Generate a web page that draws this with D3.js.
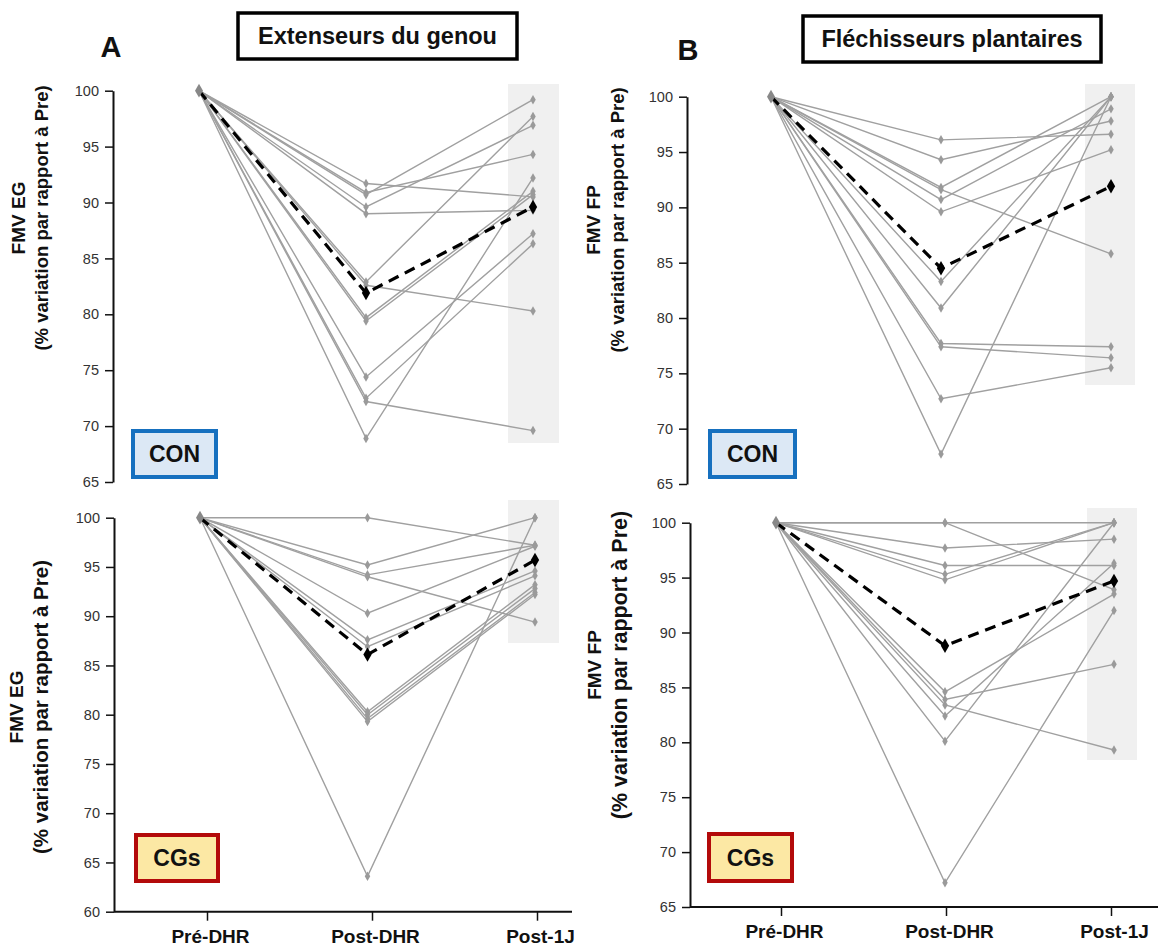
<!DOCTYPE html>
<html>
<head>
<meta charset="utf-8">
<script src="https://cdn.jsdelivr.net/npm/d3@7"></script>
<style>
  body { margin: 0; background: #fff; }
  text { font-family: "Liberation Sans", Arial, sans-serif; }
</style>
</head>
<body>
<script>
// ---------- DATA ----------
const categories = ["Pré-DHR", "Post-DHR", "Post-1J"];

// A – Extenseurs du genou, CON
const egConPostDHR = [91.7, 90.9, 90.7, 89.6, 89.0, 82.9, 82.6, 79.7, 79.4, 74.4, 72.5, 72.2, 68.9];
const egConPost1J  = [90.5, 94.3, 99.2, 96.9, 89.3, 97.7, 80.3, 91.0, 90.7, 87.2, 86.3, 69.6, 92.2];
const egConMean    = [100, 81.9, 89.6];

// B – Fléchisseurs plantaires, CON
const fpConPostDHR = [96.1, 94.3, 91.8, 91.6, 90.7, 89.6, 83.3, 80.9, 77.7, 77.4, 72.7, 67.7];
const fpConPost1J  = [96.6, 97.8, 100, 85.8, 98.9, 95.2, 100, 100, 77.4, 76.4, 75.5, 100];
const fpConMean    = [100, 84.5, 91.9];

// A – Extenseurs du genou, CGs
const egCgsPostDHR = [100, 95.2, 94.2, 94.0, 90.3, 87.6, 86.9, 80.3, 80.0, 79.6, 79.3, 63.6];
const egCgsPost1J  = [97.2, 100, 97.2, 89.4, 97.1, 94.6, 94.1, 93.2, 92.8, 92.4, 92.2, 100];
const egCgsMean    = [100, 86.1, 95.7];

// B – Fléchisseurs plantaires, CGs
const fpCgsPostDHR = [100, 100, 97.7, 96.1, 95.3, 94.8, 84.6, 83.9, 83.4, 82.4, 80.1, 67.2];
const fpCgsPost1J  = [100, 93.9, 98.5, 96.1, 100, 100, 93.5, 87.1, 79.3, 96.3, 100, 92.0];
const fpCgsMean    = [100, 88.8, 94.7];

const preValue = 100;
const yTicksTop = [65, 70, 75, 80, 85, 90, 95, 100];
const yTicksEgCgs = [60, 65, 70, 75, 80, 85, 90, 95, 100];

// ---------- LAYOUT ----------
const svg = d3.select("body").append("svg")
  .attr("width", 1158).attr("height", 946)
  .style("background", "#fff");

const panels = [
  { post: egConPostDHR, j1: egConPost1J, mean: egConMean, yMin: 65, ticks: yTicksTop,
    ax: 113, y100: 90.7, yMinPx: 482, x0: 199, x1: 533,
    shade: [508, 84, 51, 359], xAxis: false,
    lab1: "FMV EG", lab2: "(% variation par rapport à Pre)", labX1: 25, labX2: 48, labY: 218, f1: 19, f2: 18.5,
    badge: { text: "CON", x: 133, y: 431, w: 83, h: 46, stroke: "#1670bf", fill: "#dce8f5" } },
  { post: fpConPostDHR, j1: fpConPost1J, mean: fpConMean, yMin: 65, ticks: yTicksTop,
    ax: 687, y100: 96.7, yMinPx: 484, x0: 771, x1: 1111,
    shade: [1085, 84, 50, 301], xAxis: false,
    lab1: "FMV FP", lab2: "(% variation par rapport à Pre)", labX1: 600, labX2: 624, labY: 220, f1: 19, f2: 18.5,
    badge: { text: "CON", x: 710, y: 431, w: 85, h: 46, stroke: "#1670bf", fill: "#dce8f5" } },
  { post: egCgsPostDHR, j1: egCgsPost1J, mean: egCgsMean, yMin: 60, ticks: yTicksEgCgs,
    ax: 114, y100: 517.7, yMinPx: 911.7, x0: 200, x1: 535, t0: 207, t1: 537,
    shade: [508, 500, 51, 143], xAxis: true, xEnd: 572,
    lab1: "FMV EG", lab2: "(% variation par rapport à Pre)", labX1: 23, labX2: 48, labY: 707, f1: 19, f2: 20.5,
    badge: { text: "CGs", x: 136, y: 835, w: 82, h: 46, stroke: "#b30a0a", fill: "#fce8a4" } },
  { post: fpCgsPostDHR, j1: fpCgsPost1J, mean: fpCgsMean, yMin: 65, ticks: yTicksTop,
    ax: 690, y100: 522.7, yMinPx: 907, x0: 776, x1: 1114, t0: 781, t1: 1111,
    shade: [1087, 508, 50, 252], xAxis: true, xEnd: 1158,
    lab1: "FMV FP", lab2: "(% variation par rapport à Pre)", labX1: 601, labX2: 627, labY: 665, f1: 19, f2: 21.5,
    badge: { text: "CGs", x: 709, y: 834, w: 83, h: 47, stroke: "#b30a0a", fill: "#fce8a4" } }
];

const grayLine = "#a0a0a0";
const grayMark = "#9a9a9a";

function drawPanel(p) {
  const g = svg.append("g");
  const x = d3.scalePoint().domain(categories).range([p.x0, p.x1]);
  const y = d3.scaleLinear().domain([p.yMin, 100]).range([p.yMinPx, p.y100]);

  // shaded column
  g.append("rect")
    .attr("x", p.shade[0]).attr("y", p.shade[1])
    .attr("width", p.shade[2]).attr("height", p.shade[3])
    .attr("fill", "#f0f0f0");

  // y axis
  const ya = g.append("g").attr("transform", `translate(${p.ax},0)`)
    .call(d3.axisLeft(y).tickValues(p.ticks).tickSize(8).tickSizeOuter(0).tickPadding(6));
  ya.select(".domain").attr("stroke", "#111").attr("stroke-width", 2);
  ya.selectAll(".tick line").attr("stroke", "#111").attr("stroke-width", 1.5);
  ya.selectAll(".tick text").attr("font-size", 14.5).attr("fill", "#333")
    .style("font-family", "'Liberation Sans', Arial, sans-serif");

  // x axis (bottom panels)
  if (p.xAxis) {
    const xt = d3.scalePoint().domain(categories).range([p.t0, p.t1]);
    g.append("line").attr("x1", p.ax).attr("x2", p.xEnd)
      .attr("y1", p.yMinPx).attr("y2", p.yMinPx)
      .attr("stroke", "#111").attr("stroke-width", 2);
    const xa = g.append("g").attr("transform", `translate(0,${p.yMinPx})`)
      .call(d3.axisBottom(xt).tickSize(9).tickSizeOuter(0).tickPadding(9));
    xa.select(".domain").remove();
    xa.selectAll(".tick line").attr("stroke", "#111").attr("stroke-width", 1.5);
    xa.selectAll(".tick text").attr("font-size", 19).attr("font-weight", "bold").attr("fill", "#111")
      .attr("dx", 3)
      .style("font-family", "'Liberation Sans', Arial, sans-serif");
  }

  const line = d3.line().x(d => x(d[0])).y(d => y(d[1]));
  const subjects = p.post.map((v, i) => [[categories[0], preValue], [categories[1], v], [categories[2], p.j1[i]]]);

  g.selectAll("path.subj").data(subjects).enter().append("path")
    .attr("class", "subj").attr("d", line)
    .attr("fill", "none").attr("stroke", grayLine).attr("stroke-width", 1.4);

  const diamond = d3.symbol().type(d3.symbolDiamond).size(26);
  subjects.forEach(s => {
    g.selectAll(null).data(s).enter().append("path")
      .attr("d", diamond)
      .attr("transform", d => `translate(${x(d[0])},${y(d[1])})`)
      .attr("fill", grayMark);
  });

  // mean
  const meanPts = categories.map((c, i) => [c, p.mean[i]]);
  g.append("path").datum(meanPts).attr("d", line)
    .attr("fill", "none").attr("stroke", "#000").attr("stroke-width", 3.2)
    .attr("stroke-dasharray", "11,7");
  g.selectAll(null).data(meanPts.slice(1)).enter().append("path")
    .attr("d", d3.symbol().type(d3.symbolDiamond).size(60))
    .attr("transform", d => `translate(${x(d[0])},${y(d[1])})`)
    .attr("fill", "#000");
  g.append("path").attr("d", d3.symbol().type(d3.symbolDiamond).size(55))
    .attr("transform", `translate(${x(categories[0])},${y(preValue)})`)
    .attr("fill", "#888");

  // y labels
  g.append("text").attr("transform", `translate(${p.labX1},${p.labY}) rotate(-90)`)
    .attr("text-anchor", "middle").attr("font-size", p.f1).attr("font-weight", "bold")
    .attr("fill", "#111").text(p.lab1);
  g.append("text").attr("transform", `translate(${p.labX2},${p.labY}) rotate(-90)`)
    .attr("text-anchor", "middle").attr("font-size", p.f2).attr("font-weight", "bold")
    .attr("fill", "#111").text(p.lab2);

  // badge
  const b = p.badge;
  g.append("rect").attr("x", b.x).attr("y", b.y).attr("width", b.w).attr("height", b.h)
    .attr("fill", b.fill).attr("stroke", b.stroke).attr("stroke-width", 4);
  g.append("text").attr("x", b.x + b.w / 2).attr("y", b.y + b.h / 2 + 8)
    .attr("text-anchor", "middle").attr("font-size", 23).attr("font-weight", "bold")
    .attr("fill", "#111").text(b.text);
}

panels.forEach(drawPanel);

// headers
const headers = [
  { letter: "A", lx: 111, ly: 57, title: "Extenseurs du genou", bx: 238, by: 13, bw: 279, bh: 46 },
  { letter: "B", lx: 688, ly: 60, title: "Fléchisseurs plantaires", bx: 803, by: 16, bw: 298, bh: 46 }
];
headers.forEach(h => {
  svg.append("text").attr("x", h.lx).attr("y", h.ly).attr("text-anchor", "middle")
    .attr("font-size", 29).attr("font-weight", "bold").attr("fill", "#111").text(h.letter);
  svg.append("rect").attr("x", h.bx).attr("y", h.by).attr("width", h.bw).attr("height", h.bh)
    .attr("fill", "#fff").attr("stroke", "#000").attr("stroke-width", 3.5);
  svg.append("text").attr("x", h.bx + h.bw / 2).attr("y", h.by + h.bh / 2 + 8)
    .attr("text-anchor", "middle").attr("font-size", 23.5).attr("font-weight", "bold")
    .attr("fill", "#111").text(h.title);
});
</script>
</body>
</html>
